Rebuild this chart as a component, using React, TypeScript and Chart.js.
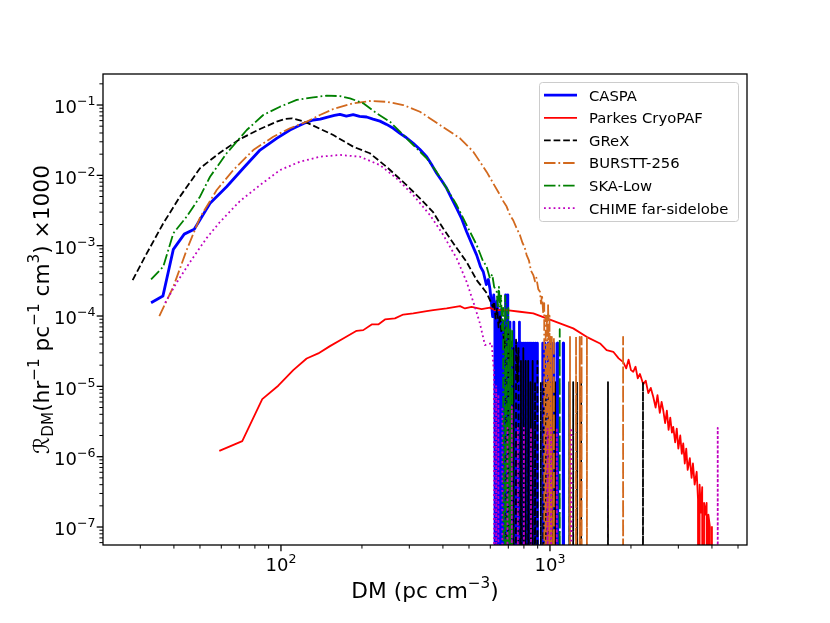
import React, { useEffect, useRef } from 'react';
import { Chart, registerables } from 'chart.js';

Chart.register(...registerables);

// [DM (pc cm^-3), rate x1000]; 0 = empty bin
const caspa: [number, number][] = [
  [32.9, 1.54e-4], [36.4, 1.92e-4], [39.8, 8.85e-4], [43.7, 1.46e-3], [47.6, 1.71e-3], [54.5, 4.0e-3],
  [62.8, 6.89e-3], [72.4, 1.26e-2], [83.6, 2.29e-2], [96.4, 3.36e-2], [108, 4.41e-2], [114.4, 4.91e-2],
  [122, 5.5e-2], [131.8, 6.12e-2], [140, 6.3e-2], [147.9, 6.68e-2], [158, 7.1e-2], [165.7, 7.38e-2],
  [175, 6.95e-2], [185.6, 7.3e-2], [196, 6.9e-2], [208.2, 6.75e-2], [220, 6.3e-2], [233.3, 5.9e-2],
  [247, 5.3e-2], [261.5, 4.67e-2], [276.9, 3.96e-2], [292, 3.45e-2], [310.3, 2.85e-2], [328, 2.35e-2],
  [348, 1.84e-2], [362, 1.45e-2], [379, 1.07e-2], [395, 8.5e-3], [413, 6.53e-3], [430, 4.8e-3],
  [450, 3.4e-3], [470, 2.4e-3], [490, 1.58e-3], [510, 1.1e-3], [534, 7.35e-4], [552, 5.0e-4],
  [565, 4.26e-4], [580, 2.8e-4], [590, 3.3e-4], [598, 2.47e-4], [605, 1.6e-4], [612, 9.8e-5],
  [618, 2.0e-4], [624, 1.2e-4], [630, 0], [636, 1.64e-4], [642, 8.2e-5], [648, 0], [654, 1.23e-4],
  [660, 4.1e-5], [666, 0], [672, 8.2e-5], [678, 0], [684, 2.0e-4], [690, 0], [697, 2.0e-4], [703, 0],
  [710, 8.2e-5], [716, 0], [722, 4.1e-5], [728, 0], [734, 8.2e-5], [740, 0], [746, 4.1e-5], [752, 0],
  [758, 4.1e-5], [764, 0], [770, 8.2e-5], [776, 0], [782, 4.1e-5], [788, 0], [795, 4.1e-5], [801, 0],
  [808, 4.1e-5], [815, 0], [822, 4.1e-5], [829, 0], [836, 4.1e-5], [843, 0], [850, 4.1e-5], [858, 0],
  [866, 4.1e-5], [874, 0], [882, 4.1e-5], [890, 0], [898, 4.1e-5], [906, 0], [936, 0], [940, 4.1e-5],
  [944, 0], [954, 0], [958, 4.1e-5], [962, 0], [981, 0], [985, 4.1e-5], [989, 0], [1006, 0],
  [1010, 4.1e-5], [1014, 0], [1031, 0], [1035, 4.1e-5], [1039, 0], [1061, 0], [1065, 4.1e-5], [1069, 0],
  [1116, 0], [1120, 4.1e-5], [1124, 0],
];

const parkes: [number, number][] = [
  [59.0, 1.21e-6], [71.8, 1.66e-6], [85.2, 6.58e-6], [97.7, 1.02e-5], [111.1, 1.7e-5], [124.6, 2.49e-5],
  [137.6, 2.94e-5], [152.1, 3.73e-5], [170.4, 4.8e-5], [191.1, 6.16e-5], [202.3, 6.3e-5], [217.4, 7.59e-5],
  [230, 7.59e-5], [243.6, 8.94e-5], [265.3, 9.24e-5], [284.8, 1.05e-4], [310.3, 1.09e-4], [348, 1.17e-4],
  [368.2, 1.21e-4], [413, 1.28e-4], [463, 1.38e-4], [483, 1.28e-4], [511, 1.35e-4], [557, 1.25e-4],
  [598, 1.32e-4], [624, 1.21e-4], [690, 1.21e-4], [773, 1.15e-4], [867, 1.09e-4], [972, 9.24e-5],
  [1089, 7.85e-5], [1220, 6.67e-5], [1368, 5.06e-5], [1535, 4.07e-5], [1624, 3.27e-5], [1719, 3.1e-5],
  [1800, 2.5e-5], [1872, 2.21e-5], [1920, 1.8e-5], [1960, 2.4e-5], [2000, 1.7e-5], [2039, 1.61e-5],
  [2080, 1.9e-5], [2120, 1.3e-5], [2160, 1.5e-5], [2222, 1.07e-5], [2270, 1.2e-5], [2320, 8.0e-6],
  [2370, 9.5e-6], [2420, 7.1e-6], [2470, 5.0e-6], [2510, 7.5e-6], [2560, 4.2e-6], [2600, 6.0e-6],
  [2636, 4.58e-6], [2680, 3.0e-6], [2720, 4.5e-6], [2760, 2.4e-6], [2800, 3.6e-6], [2840, 2.2e-6],
  [2872, 2.65e-6], [2920, 1.6e-6], [2960, 2.5e-6], [3000, 1.3e-6], [3050, 2.0e-6], [3090, 1.1e-6],
  [3129, 1.54e-6], [3170, 8.0e-7], [3210, 1.3e-6], [3250, 6.5e-7], [3311, 9.5e-7], [3360, 5.0e-7],
  [3400, 8.0e-7], [3450, 4.0e-7], [3510, 6.1e-7], [3550, 2.5e-7], [3580, 0], [3600, 4.0e-7],
  [3640, 1.6e-7], [3680, 3.7e-7], [3713, 0], [3740, 2.2e-7], [3780, 1.5e-7], [3822, 2.2e-7], [3850, 0],
  [3880, 1.5e-7], [3932, 1.0e-7], [3960, 0], [4000, 1.0e-7], [4036, 0],
];

const grex: [number, number][] = [
  [28.1, 3.24e-4], [31.7, 7.76e-4], [36.5, 2.07e-3], [42.1, 4.97e-3], [50.0, 1.26e-2], [59.3, 2.1e-2],
  [70.4, 3.28e-2], [83.6, 4.56e-2], [96.4, 5.79e-2], [103.5, 6.33e-2], [110, 6.47e-2], [120.7, 5.9e-2],
  [131.8, 5.1e-2], [156.5, 3.74e-2], [185.7, 2.55e-2], [214, 2.06e-2], [247, 1.32e-2], [293, 7.27e-3],
  [328.6, 4.71e-3], [367, 3.03e-3], [400, 1.78e-3], [450, 9.24e-4], [490, 5.85e-4], [534, 3.24e-4],
  [582, 2.12e-4], [614, 1.35e-4], [620, 1.6e-4], [628, 9.2e-5], [636, 1.27e-4], [644, 6.9e-5],
  [652, 1.04e-4], [660, 5.8e-5], [668, 8.1e-5], [676, 3.5e-5], [684, 6.9e-5], [692, 0], [700, 5.8e-5],
  [708, 2.3e-5], [716, 4.6e-5], [724, 0], [732, 3.5e-5], [740, 0], [748, 4.6e-5], [756, 1.15e-5],
  [764, 3.5e-5], [772, 0], [780, 2.3e-5], [788, 0], [796, 3.5e-5], [804, 0], [812, 2.3e-5], [820, 0],
  [830, 2.3e-5], [838, 0], [846, 1.15e-5], [854, 0], [862, 2.3e-5], [870, 0], [880, 1.15e-5], [888, 0],
  [898, 2.3e-5], [906, 0], [921, 0], [925, 1.15e-5], [929, 0], [941, 0], [945, 1.15e-5], [949, 0],
  [961, 0], [965, 1.15e-5], [969, 0], [986, 0], [990, 1.15e-5], [994, 0], [1016, 0], [1020, 1.15e-5],
  [1024, 0], [1041, 0], [1045, 1.15e-5], [1049, 0], [1176, 0], [1180, 1.15e-5], [1184, 0], [1216, 0],
  [1220, 1.15e-5], [1224, 0], [1256, 0], [1260, 1.15e-5], [1264, 0], [1300, 0], [1305, 1.15e-5],
  [1310, 0], [1638, 0], [1643, 1.15e-5], [1648, 0], [2211, 0], [2217, 1.15e-5], [2223, 0],
];

const burstt: [number, number][] = [
  [35.3, 9.97e-5], [39.8, 2.6e-4], [44.6, 8.66e-4], [50.0, 2.51e-3], [57.7, 6.18e-3], [66.5, 1.19e-2],
  [78.9, 2.29e-2], [93.6, 3.54e-2], [108, 4.67e-2], [124.6, 5.79e-2], [139.6, 7.21e-2], [156.5, 8.77e-2],
  [185.6, 0.1057], [214, 0.114], [247, 0.111], [284.8, 0.1], [328.6, 8.03e-2], [390, 5.19e-2],
  [463, 3.36e-2], [518.5, 2.17e-2], [581.6, 1.12e-2], [652, 5.24e-3], [670, 4.3e-3], [690, 3.6e-3],
  [710, 2.72e-3], [730, 2.3e-3], [750, 1.8e-3], [773, 1.42e-3], [790, 1.1e-3], [805, 9.5e-4],
  [819, 7.35e-4], [835, 6.2e-4], [850, 4.4e-4], [867, 3.82e-4], [880, 3.1e-4], [890, 3.5e-4],
  [905, 2.4e-4], [918, 2.21e-4], [926, 1.5e-4], [934, 2.0e-4], [944, 1.09e-4], [952, 1.52e-4],
  [958, 0], [964, 1.01e-4], [972, 7.01e-5], [976, 1.01e-4], [980, 0], [984, 1.52e-4], [988, 5.06e-5],
  [992, 0], [996, 1.01e-4], [1000, 0], [1004, 5.06e-5], [1008, 0], [1016, 5.06e-5], [1020, 0],
  [1030, 0], [1034, 5.06e-5], [1038, 0], [1183, 0], [1187, 5.06e-5], [1191, 0], [1246, 0],
  [1250, 5.06e-5], [1254, 0], [1286, 0], [1290, 5.06e-5], [1294, 0], [1307, 0], [1311, 5.06e-5],
  [1315, 0], [1368, 0], [1372, 5.06e-5], [1376, 0], [1865, 0], [1870, 5.06e-5], [1875, 0],
];

const ska: [number, number][] = [
  [32.9, 3.32e-4], [36.5, 5.01e-4], [39.8, 1.5e-3], [44.6, 2.58e-3], [50.0, 4.97e-3], [54.5, 9.55e-3],
  [62.8, 2.06e-2], [74.6, 4.41e-2], [85.9, 7.21e-2], [99.2, 9.46e-2], [114.4, 0.118], [131.8, 0.1287],
  [147.9, 0.1356], [165.7, 0.134], [180.5, 0.1245], [202.3, 0.1057], [226.8, 7.62e-2], [254.2, 5.79e-2],
  [276.9, 4.17e-2], [310.3, 2.7e-2], [348, 1.75e-2], [379, 1.12e-2], [413, 6.53e-3], [450, 3.78e-3],
  [490, 1.96e-3], [534, 1.02e-3], [565, 5.9e-4], [580, 5.2e-4], [598, 3.43e-4], [610, 3.9e-4],
  [620, 2.6e-4], [634, 2.21e-4], [640, 1.3e-4], [646, 2.6e-4], [652, 1.3e-4], [658, 1.95e-4],
  [664, 6.5e-5], [670, 1.3e-4], [676, 0], [682, 1.95e-4], [688, 6.5e-5], [694, 0], [700, 1.3e-4],
  [706, 0], [712, 6.5e-5], [718, 0], [724, 6.5e-5], [730, 0], [1081, 0], [1087, 6.5e-5], [1093, 0],
];

const chime: [number, number][] = [
  [37.1, 1.54e-4], [41.0, 3.0e-4], [45.9, 5.85e-4], [52.9, 1.28e-3], [59.3, 2.17e-3], [70.4, 4.31e-3],
  [83.6, 7.27e-3], [99.2, 1.19e-2], [117.6, 1.56e-2], [139.6, 1.84e-2], [165.7, 1.95e-2], [196.6, 1.84e-2],
  [233.3, 1.4e-2], [269, 9.07e-3], [310.3, 5.24e-3], [358, 2.72e-3], [401, 1.42e-3], [450, 6.59e-4],
  [490, 3.06e-4], [526, 1.35e-4], [549, 7.85e-5], [573, 3.86e-5], [607, 4.11e-5], [619, 1.61e-5],
  [625, 0], [631, 1.03e-5], [637, 0], [643, 7.7e-6], [649, 0], [660, 0], [665, 5.1e-6], [670, 0],
  [690, 0], [695, 2.57e-6], [700, 0], [716, 0], [721, 5.1e-6], [726, 0], [755, 0], [760, 2.57e-6],
  [765, 0], [795, 0], [800, 2.57e-6], [805, 0], [845, 0], [850, 2.57e-6], [855, 0], [975, 0],
  [980, 2.57e-6], [985, 0], [1005, 0], [1010, 2.57e-6], [1015, 0], [1055, 0], [1060, 2.57e-6],
  [1065, 0], [1195, 0], [1200, 2.57e-6], [1205, 0], [4180, 0], [4203, 2.57e-6], [4226, 0],
];

const seriesNames = ['CASPA', 'Parkes CryoPAF', 'GReX', 'BURSTT-256', 'SKA-Low', 'CHIME far-sidelobe'];
const seriesColors = ['#0000ff', '#ff0000', '#000000', '#d2691e', '#008000', '#bf00bf'];
const seriesWidths = [2.8, 1.8, 1.8, 1.8, 1.8, 1.8];
const seriesDashes = [[], [], [6.7, 2.9], [11.5, 2.9, 1.8, 2.9], [11.5, 2.9, 1.8, 2.9], [1.8, 3.0]];

const xMin = 21.8;
const xMax = 5400;
const yMin = 5.55e-8;
const yMax = 0.276;
const xMajorExps = [2, 3];
const yMajorExps = [-7, -6, -5, -4, -3, -2, -1];

// matplotlib clips non-positive values far below the axes
const FLOOR = 1e-30;
const FONT = '"DejaVu Sans", "Liberation Sans", sans-serif';

const expText = (e: number) => (e < 0 ? '\u2212' + Math.abs(e) : String(e));

type Piece = { t: string; s: number; dy: number };

function drawPieces(ctx: CanvasRenderingContext2D, pieces: Piece[], x: number, y: number, align: string) {
  let total = 0;
  const widths = pieces.map((p) => {
    ctx.font = `${p.s}px ${FONT}`;
    const w = ctx.measureText(p.t).width;
    total += w;
    return w;
  });
  let cx = align === 'center' ? x - total / 2 : align === 'right' ? x - total : x;
  ctx.textAlign = 'left';
  ctx.textBaseline = 'alphabetic';
  pieces.forEach((p, i) => {
    ctx.font = `${p.s}px ${FONT}`;
    ctx.fillText(p.t, cx, y + p.dy);
    cx += widths[i];
  });
}

const powPieces = (e: number): Piece[] => [
  { t: '10', s: 18, dy: 0 },
  { t: expText(e), s: 12.6, dy: -8 },
];

const axesPlugin = {
  id: 'mplAxes',
  afterDraw(chart: any) {
    const { ctx, chartArea: a } = chart;
    const xs = chart.scales.x;
    const ys = chart.scales.y;
    ctx.save();
    ctx.strokeStyle = '#000';
    ctx.fillStyle = '#000';

    // ticks
    for (let e = 1; e <= 4; e++) {
      for (let m = 1; m <= 9; m++) {
        const v = m * Math.pow(10, e);
        if (v < xMin || v > xMax) continue;
        const px = xs.getPixelForValue(v);
        ctx.lineWidth = m === 1 ? 1.3 : 1;
        ctx.beginPath();
        ctx.moveTo(px, a.bottom);
        ctx.lineTo(px, a.bottom + (m === 1 ? 6.3 : 3.6));
        ctx.stroke();
      }
    }
    for (let e = -8; e <= 0; e++) {
      for (let m = 1; m <= 9; m++) {
        const v = m * Math.pow(10, e);
        if (v < yMin || v > yMax) continue;
        const py = ys.getPixelForValue(v);
        ctx.lineWidth = m === 1 ? 1.3 : 1;
        ctx.beginPath();
        ctx.moveTo(a.left, py);
        ctx.lineTo(a.left - (m === 1 ? 6.3 : 3.6), py);
        ctx.stroke();
      }
    }

    // frame
    ctx.lineWidth = 1.3;
    ctx.strokeRect(a.left, a.top, a.right - a.left, a.bottom - a.top);

    // tick labels
    xMajorExps.forEach((e) => drawPieces(ctx, powPieces(e), xs.getPixelForValue(Math.pow(10, e)), 571, 'center'));
    yMajorExps.forEach((e) => drawPieces(ctx, powPieces(e), 95.5, ys.getPixelForValue(Math.pow(10, e)) + 8.3, 'right'));

    // axis titles
    const L = 21.7;
    const S = 15.2;
    drawPieces(
      ctx,
      [
        { t: 'DM (pc cm', s: L, dy: 0 },
        { t: '\u22123', s: S, dy: -9.6 },
        { t: ')', s: L, dy: 0 },
      ],
      (a.left + a.right) / 2,
      598,
      'center'
    );
    ctx.save();
    ctx.translate(49, (a.top + a.bottom) / 2);
    ctx.rotate(-Math.PI / 2);
    drawPieces(
      ctx,
      [
        { t: '\u211B', s: L, dy: 0 },
        { t: 'DM', s: S, dy: 4.2 },
        { t: '(hr', s: L, dy: 0 },
        { t: '\u22121', s: S, dy: -9.6 },
        { t: ' pc', s: L, dy: 0 },
        { t: '\u22121', s: S, dy: -9.6 },
        { t: ' cm', s: L, dy: 0 },
        { t: '3', s: S, dy: -9.6 },
        { t: ') \u00D71000', s: L, dy: 0 },
      ],
      0,
      0,
      'center'
    );
    ctx.restore();

    // legend
    const bx = 539.5;
    const by = 82.5;
    const bw = 199;
    const bh = 139;
    ctx.beginPath();
    ctx.roundRect(bx, by, bw, bh, 3);
    ctx.fillStyle = 'rgba(255,255,255,0.8)';
    ctx.fill();
    ctx.lineWidth = 1;
    ctx.strokeStyle = '#cccccc';
    ctx.stroke();
    chart.data.datasets.forEach((ds: any, i: number) => {
      const ry = 95.2 + i * 22.6;
      ctx.strokeStyle = ds.borderColor;
      ctx.lineWidth = ds.borderWidth;
      ctx.setLineDash(ds.borderDash);
      ctx.lineDashOffset = 0;
      ctx.beginPath();
      ctx.moveTo(544, ry);
      ctx.lineTo(577, ry);
      ctx.stroke();
      ctx.setLineDash([]);
      ctx.fillStyle = '#000';
      ctx.font = `14.8px ${FONT}`;
      ctx.textAlign = 'left';
      ctx.textBaseline = 'alphabetic';
      ctx.fillText(ds.label, 589, ry + 5.4);
    });
    ctx.restore();
  },
};

const seriesData = [caspa, parkes, grex, burstt, ska, chime];

const App: React.FC = () => {
  const chartRef = useRef<HTMLCanvasElement | null>(null);
  const chartInstanceRef = useRef<Chart | null>(null);

  useEffect(() => {
    if (!chartRef.current) return;
    const ctx = chartRef.current.getContext('2d');
    if (!ctx) return;

    chartInstanceRef.current = new Chart(ctx, {
      type: 'line',
      data: {
        datasets: seriesData.map((pts, i) => ({
          label: seriesNames[i],
          data: pts.map(([x, y]) => ({ x, y: y > 0 ? y : FLOOR })),
          borderColor: seriesColors[i],
          borderWidth: seriesWidths[i],
          borderDash: seriesDashes[i],
          borderJoinStyle: 'round',
          pointRadius: 0,
          pointHoverRadius: 0,
          fill: false,
          tension: 0,
          clip: 0,
          order: seriesData.length - i,
        })),
      },
      options: {
        responsive: true,
        maintainAspectRatio: false,
        animation: false,
        events: [],
        layout: { padding: { left: 103, right: 83, top: 74, bottom: 78 } },
        plugins: {
          legend: { display: false },
          tooltip: { enabled: false },
        },
        scales: {
          x: { type: 'logarithmic', min: xMin, max: xMax, display: false },
          y: { type: 'logarithmic', min: yMin, max: yMax, display: false },
        },
      } as any,
      plugins: [axesPlugin],
    });

    return () => {
      if (chartInstanceRef.current) {
        chartInstanceRef.current.destroy();
        chartInstanceRef.current = null;
      }
    };
  }, []);

  return (
    <div style={{ position: 'absolute', left: 0, top: 0, width: 830, height: 623, background: '#fff' }}>
      <canvas ref={chartRef} />
    </div>
  );
};

export default App;
